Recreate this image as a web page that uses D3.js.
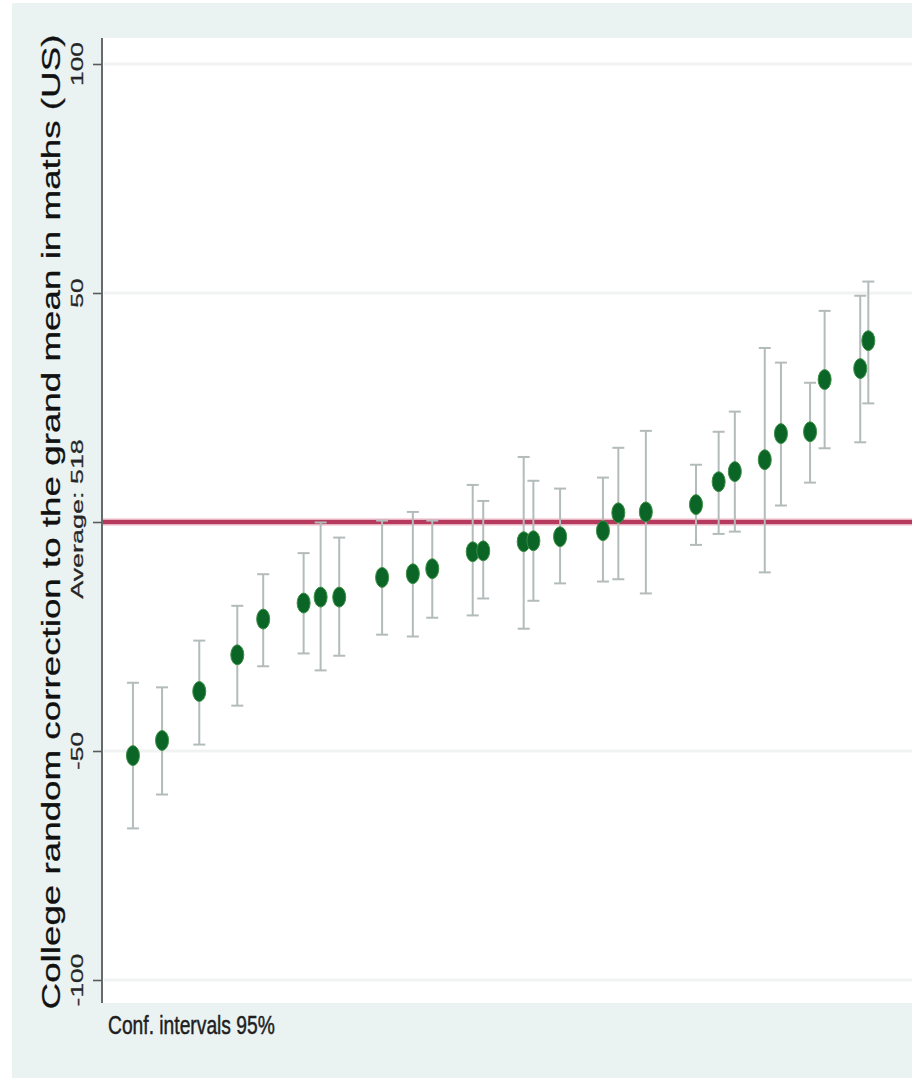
<!DOCTYPE html>
<html>
<head>
<meta charset="utf-8">
<script src="https://cdn.jsdelivr.net/npm/d3@7"></script>
<style>
  html, body { margin: 0; padding: 0; background: #ffffff; }
  svg { display: block; }
  text { font-family: "Liberation Sans", Arial, Helvetica, sans-serif; }
</style>
</head>
<body>
<script>
// College effects on the maths score, sorted, with 95% confidence intervals
const collegePos = [3.7, 7.3, 11.9, 16.6, 19.8, 24.8, 26.9, 29.2, 34.5, 38.3,
                    40.7, 45.7, 47.0, 52.0, 53.2, 56.5, 61.8, 63.7, 67.1, 73.3,
                    76.1, 78.1, 81.8, 83.8, 87.4, 89.2, 93.6, 94.6];
const effect = [-51.0, -47.7, -37.0, -29.0, -21.2, -17.7, -16.4, -16.4, -12.1, -11.3,
                -10.2, -6.5, -6.3, -4.3, -4.1, -3.2, -1.9, 2.0, 2.2, 3.8,
                8.8, 11.0, 13.6, 19.3, 19.7, 31.1, 33.5, 39.6];
const ciUpper = [-35.1, -36.1, -25.9, -18.3, -11.4, -6.8, -0.1, -3.4, 0.3, 2.2,
                 0.3, 8.1, 4.6, 14.2, 9.0, 7.3, 9.7, 16.2, 19.9, 12.5,
                 19.7, 24.1, 38.0, 34.8, 30.4, 46.1, 49.4, 52.5];
const ciLower = [-66.9, -59.5, -48.6, -40.1, -31.5, -28.7, -32.4, -29.2, -24.6, -25.0,
                 -20.9, -20.4, -16.7, -23.3, -17.2, -13.4, -13.0, -12.5, -15.6, -5.0,
                 -2.6, -2.1, -11.0, 3.6, 8.6, 16.1, 17.4, 25.9];
const yTicks = [-100, -50, 50, 100];
const yTickLabels = ["-100", "-50", "50", "100"];
const averageValue = 0;
const averageLabel = "Average: 518";
const yTitle = "College random correction to the grand mean in maths (US)";
const noteText = "Conf. intervals 95%";

const W = 912, H = 1078;
const plot = { left: 103, right: 912, top: 38, bottom: 1003 };

const svg = d3.select("body").append("svg")
  .attr("width", W).attr("height", H);

// page background and plot region
svg.append("rect").attr("x", 12).attr("y", 3).attr("width", W - 12).attr("height", H - 3)
  .attr("fill", "#eaf2f2");
svg.append("rect")
  .attr("x", plot.left).attr("y", plot.top)
  .attr("width", plot.right - plot.left).attr("height", plot.bottom - plot.top)
  .attr("fill", "#ffffff");

const x = d3.scaleLinear().domain([0, 100]).range([plot.left, plot.right]);
const y = d3.scaleLinear().domain([-100, 100]).range([980, 64]);

// faint horizontal grid
svg.append("g").selectAll("line").data(yTicks).join("line")
  .attr("x1", plot.left + 1).attr("x2", plot.right)
  .attr("y1", d => y(d)).attr("y2", d => y(d))
  .attr("stroke", "#f1f3f3").attr("stroke-width", 3);

// average reference line
svg.append("line")
  .attr("x1", plot.left).attr("x2", plot.right)
  .attr("y1", y(averageValue)).attr("y2", y(averageValue))
  .attr("stroke", "#e9b3c2").attr("stroke-width", 7);
svg.append("line")
  .attr("x1", plot.left).attr("x2", plot.right)
  .attr("y1", y(averageValue)).attr("y2", y(averageValue))
  .attr("stroke", "#b53a5d").attr("stroke-width", 4);

// y axis
const axis = d3.axisLeft(y)
  .tickValues([-100, -50, 0, 50, 100])
  .tickSize(9)
  .tickFormat("");
const axisG = svg.append("g").attr("transform", `translate(${plot.left - 1},0)`).call(axis);
axisG.select(".domain").remove();
axisG.selectAll(".tick line").attr("stroke", "#5a5a5a").attr("stroke-width", 1.6);
svg.append("line")
  .attr("x1", plot.left - 1).attr("x2", plot.left - 1)
  .attr("y1", plot.top).attr("y2", plot.bottom)
  .attr("stroke", "#5a5a5a").attr("stroke-width", 1.8);

// rotated labels, stretched along their run
function rotatedLabel(txt, cy, baseX, size, stretch, fill) {
  return svg.append("text")
    .attr("transform", `translate(${baseX},${cy}) rotate(-90) scale(${stretch},1)`)
    .attr("text-anchor", "middle")
    .attr("font-size", size)
    .attr("fill", fill)
    .attr("stroke", fill).attr("stroke-width", 0.25)
    .text(txt);
}
const tickFont = 16.5, tickStretch = 1.6;
yTicks.forEach((v, i) => rotatedLabel(yTickLabels[i], y(v), 83, tickFont, tickStretch, "#262626"));
rotatedLabel(averageLabel, y(averageValue) - 3, 83, tickFont, tickStretch * 1.02, "#262626");

// axis title, stretched to span the axis
const title = rotatedLabel(yTitle, 522, 60, 25, 1, "#111111");
const titleLen = title.node().getComputedTextLength();
title.attr("transform", `translate(60,522) rotate(-90) scale(${975 / titleLen},1)`);

// confidence intervals
const idx = d3.range(effect.length);
const capHalf = 6;
const bars = svg.append("g").attr("stroke", "#b3bbbb").attr("stroke-width", 2);
bars.selectAll("line.ci").data(idx).join("line").attr("class", "ci")
  .attr("x1", i => x(collegePos[i])).attr("x2", i => x(collegePos[i]))
  .attr("y1", i => y(ciUpper[i])).attr("y2", i => y(ciLower[i]));
bars.selectAll("line.capU").data(idx).join("line").attr("class", "capU")
  .attr("x1", i => x(collegePos[i]) - capHalf).attr("x2", i => x(collegePos[i]) + capHalf)
  .attr("y1", i => y(ciUpper[i])).attr("y2", i => y(ciUpper[i]));
bars.selectAll("line.capL").data(idx).join("line").attr("class", "capL")
  .attr("x1", i => x(collegePos[i]) - capHalf).attr("x2", i => x(collegePos[i]) + capHalf)
  .attr("y1", i => y(ciLower[i])).attr("y2", i => y(ciLower[i]));

// point estimates
svg.append("g").selectAll("ellipse").data(idx).join("ellipse")
  .attr("cx", i => x(collegePos[i]))
  .attr("cy", i => y(effect[i]))
  .attr("rx", 6.5).attr("ry", 10)
  .attr("fill", "#0b6526")
  .attr("stroke", "#3d8f45").attr("stroke-width", 1);

// note, condensed horizontally
const note = svg.append("text")
  .attr("font-size", 26)
  .attr("fill", "#1e1e1e")
  .attr("stroke", "#1e1e1e").attr("stroke-width", 0.5)
  .text(noteText);
const noteLen = note.node().getComputedTextLength();
note.attr("transform", `translate(108,1034) scale(${167 / noteLen},1)`);
</script>
</body>
</html>
